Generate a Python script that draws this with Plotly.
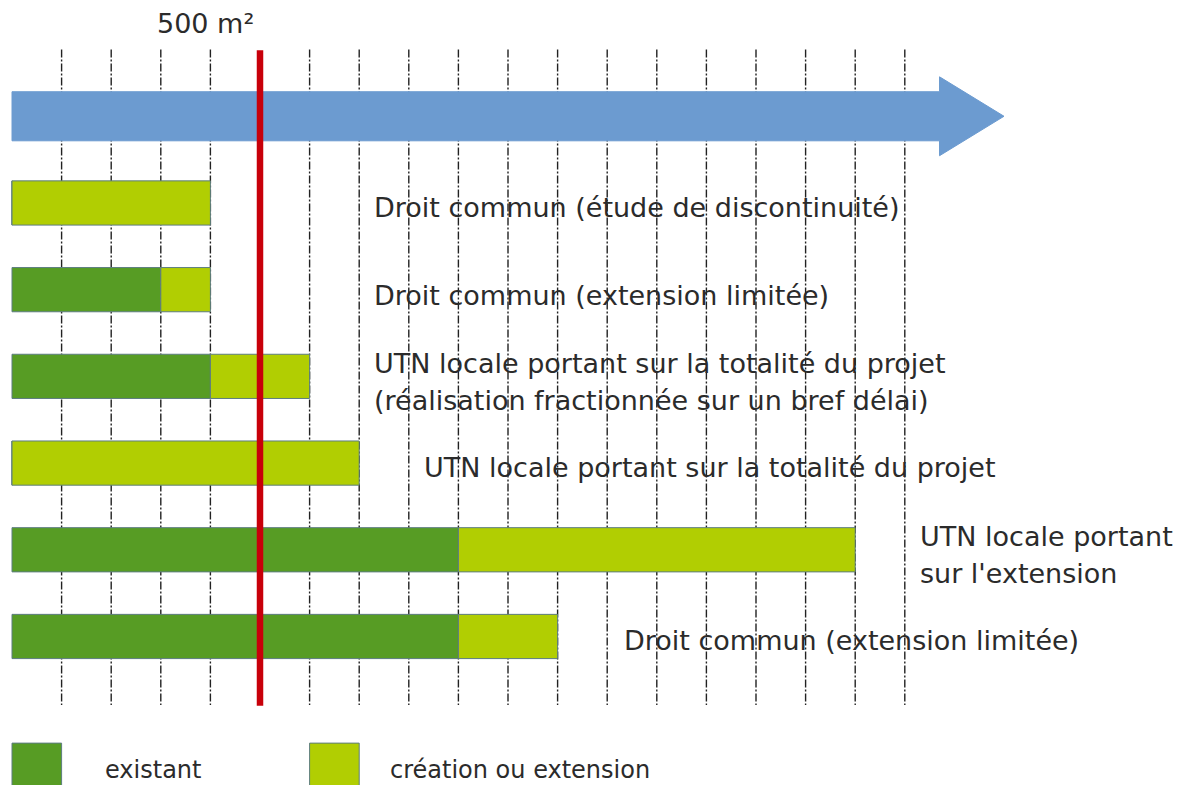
import plotly.graph_objects as go

# Surfaces in m² for each scenario (existing part, then new or extended part)
scenarios = [
    "Droit commun (étude de discontinuité)",
    "Droit commun (extension limitée)",
    "UTN locale portant sur la totalité du projet<br>(réalisation fractionnée sur un bref délai)",
    "UTN locale portant sur la totalité du projet",
    "UTN locale portant<br>sur l'extension",
    "Droit commun (extension limitée)",
]
existant = [0, 300, 400, 0, 900, 900]
creation = [400, 100, 200, 700, 800, 200]

threshold = 500          # seuil de 500 m²
grid_values = list(range(100, 1900, 100))
arrow_end = 2000
arrow_head_start = 1870

rows = list(range(len(scenarios)))

DARK = "#579c24"
LIGHT = "#b1ce02"
BLUE = "#6c9bd0"
RED = "#c8000a"
OUTLINE = "#5d7d80"
TEXT = "#2b2b2b"
FONT = "DejaVu Sans"

fig = go.Figure()

# Existing surface
fig.add_trace(go.Bar(
    y=rows, x=existant, base=[0] * len(rows), orientation="h",
    width=0.51, marker=dict(color=DARK, line=dict(color=OUTLINE, width=1)),
    hoverinfo="skip", showlegend=False,
))
# New or extended surface, stacked after the existing part
fig.add_trace(go.Bar(
    y=rows, x=creation, base=existant, orientation="h",
    width=0.51, marker=dict(color=LIGHT, line=dict(color=OUTLINE, width=1)),
    hoverinfo="skip", showlegend=False,
))

# Blue scale arrow
fig.add_trace(go.Scatter(
    x=[0, arrow_head_start, arrow_head_start, arrow_end, arrow_head_start, arrow_head_start, 0, 0],
    y=[-1.283, -1.283, -1.455, -1.0, -0.545, -0.717, -0.717, -1.283],
    mode="lines", fill="toself", fillcolor=BLUE,
    line=dict(color=BLUE, width=1), hoverinfo="skip", showlegend=False,
))

# 500 m² threshold line
fig.add_trace(go.Scatter(
    x=[threshold, threshold], y=[-1.76, 5.8], mode="lines",
    line=dict(color=RED, width=6.5), hoverinfo="skip", showlegend=False,
))

# Dashed scale lines every 100 m², behind bars and arrow
shapes = []
for v in grid_values:
    if v == threshold:
        continue
    shapes.append(dict(
        type="line", xref="x", yref="y", x0=v, x1=v, y0=-1.77, y1=5.79,
        layer="below", line=dict(color="#222222", width=1.4, dash="8px,2px,2px,2px"),
    ))

# Legend swatches
shapes.append(dict(type="rect", xref="x", yref="y", x0=0, x1=100, y0=6.23, y1=6.9,
                   fillcolor=DARK, line=dict(color=OUTLINE, width=1)))
shapes.append(dict(type="rect", xref="x", yref="y", x0=600, x1=700, y0=6.23, y1=6.9,
                   fillcolor=LIGHT, line=dict(color=OUTLINE, width=1)))

label_pos = [(726, 0.05), (726, 1.07), (726, 2.065), (827, 3.05), (1827, 4.06), (1230, 5.05)]
line_gap = 0.425

annotations = []
for text, (lx, ly) in zip(scenarios, label_pos):
    lines = text.split("<br>")
    first = ly - line_gap * (len(lines) - 1) / 2
    for i, line in enumerate(lines):
        annotations.append(dict(
            x=lx, y=first + i * line_gap, xref="x", yref="y", text=line, showarrow=False,
            xanchor="left", yanchor="middle", align="left",
            font=dict(family=FONT, size=27, color=TEXT),
        ))

annotations.append(dict(
    x=288, y=-2.07, xref="x", yref="y", text=f"{threshold} m²", showarrow=False,
    xanchor="left", yanchor="middle", font=dict(family=FONT, size=27, color=TEXT),
))
annotations.append(dict(
    x=183, y=6.54, xref="x", yref="y", text="existant", showarrow=False,
    xanchor="left", yanchor="middle", font=dict(family=FONT, size=24, color=TEXT),
))
annotations.append(dict(
    x=758, y=6.54, xref="x", yref="y", text="création ou extension", showarrow=False,
    xanchor="left", yanchor="middle", font=dict(family=FONT, size=24, color=TEXT),
))

fig.update_layout(
    width=1187, height=785,
    margin=dict(l=0, r=0, t=0, b=0),
    paper_bgcolor="white", plot_bgcolor="white",
    barmode="overlay",
    shapes=shapes, annotations=annotations,
    xaxis=dict(range=[-24.19, 2368.95], visible=False, fixedrange=True),
    yaxis=dict(range=[6.713, -2.341], visible=False, fixedrange=True),
    showlegend=False,
)

fig.write_html("out.html", config={"displayModeBar": False})
